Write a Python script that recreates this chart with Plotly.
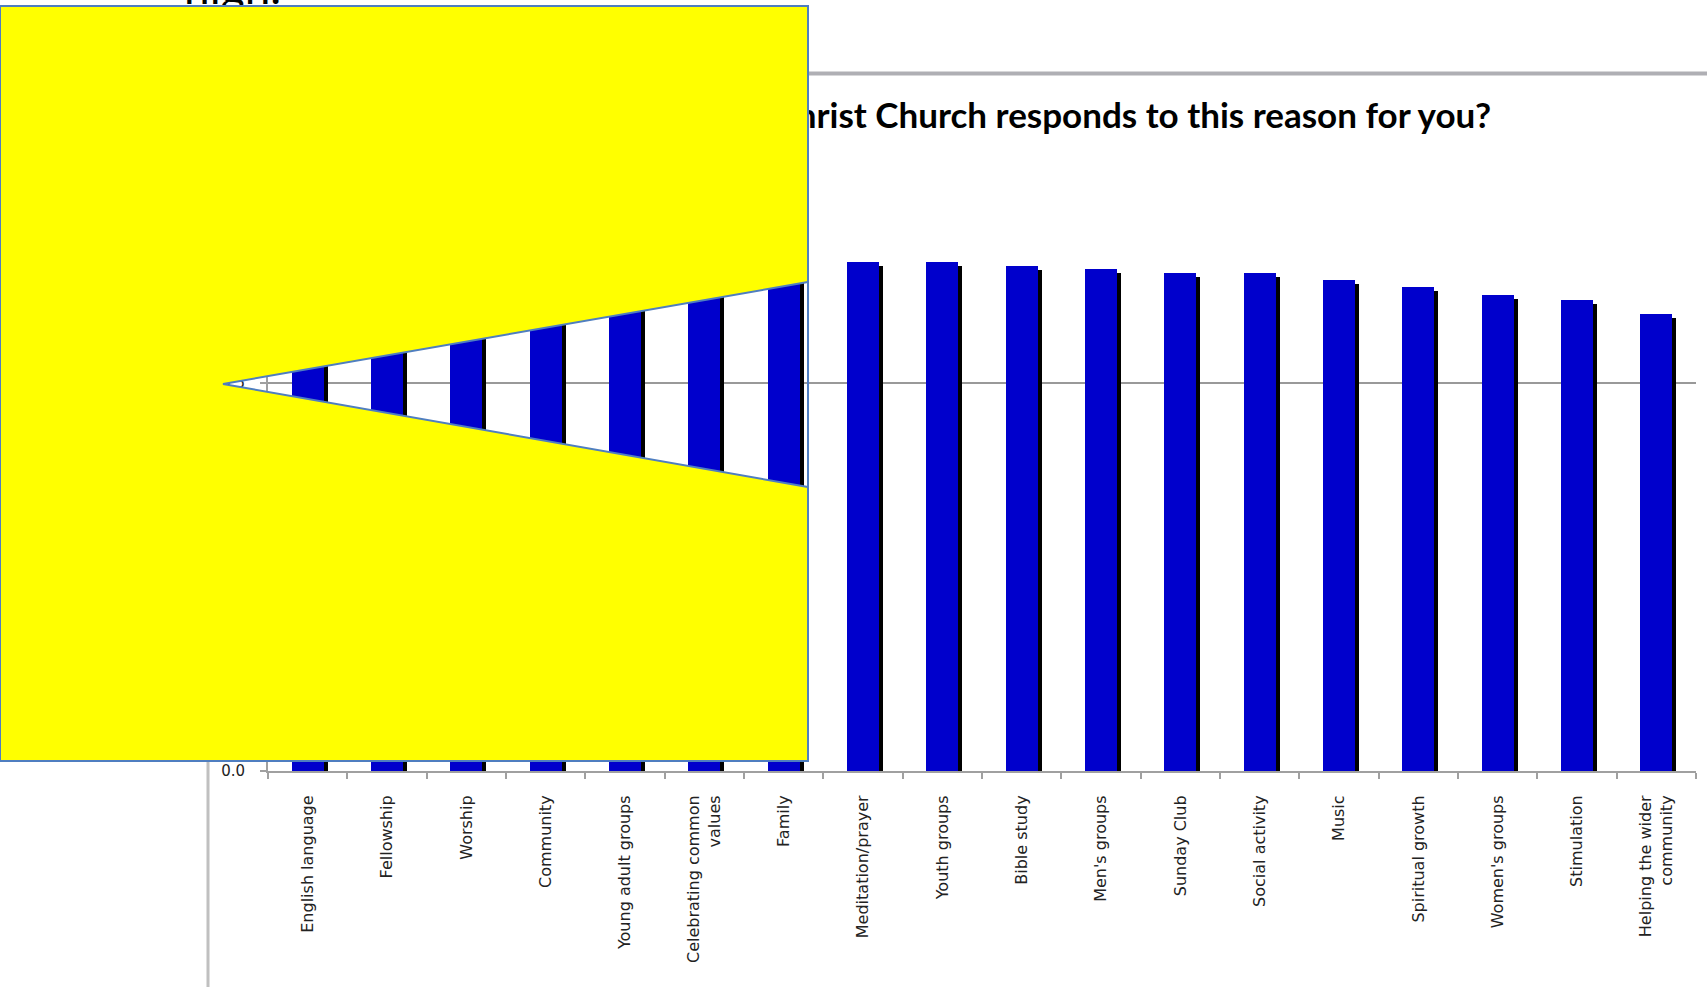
import plotly.graph_objects as go

W, H = 1707, 987

# Reasons, ordered as plotted
categories = [
    "English language", "Fellowship", "Worship", "Community",
    "Young adult groups", "Celebrating common<br>values", "Family",
    "Meditation/prayer", "Youth groups", "Bible study", "Men's groups",
    "Sunday Club", "Social activity", "Music", "Spiritual growth",
    "Women's groups", "Stimulation", "Helping the wider<br>community",
]

# Average response score per reason
scores = [
    0.76, 0.74, 0.72, 0.70, 0.69, 0.68, 0.67,
    0.656, 0.656, 0.651, 0.647, 0.642, 0.641, 0.633, 0.624,
    0.613, 0.607, 0.589,
]

y_ticks = [0.0, 0.5]
title_text = "How well do you think Christ Church responds to this reason for you?"
slide_text = "high."


def px(x):
    return x / W


def py(y):
    return 1 - y / H


BAR_W = 0.40
SHADOW_DX = 0.05
SHADOW_DY = 0.005

fig = go.Figure()

# drop shadow behind each bar
fig.add_trace(go.Bar(
    x=categories, y=[v - SHADOW_DY for v in scores],
    width=BAR_W, offset=-BAR_W / 2 + SHADOW_DX,
    marker=dict(color="#000000", line=dict(width=0)),
    hoverinfo="skip", showlegend=False,
))
fig.add_trace(go.Bar(
    x=categories, y=scores,
    width=BAR_W, offset=-BAR_W / 2,
    marker=dict(color="#0000CC", line=dict(width=0)),
    showlegend=False,
))

# chart title and slide heading, drawn as text underneath the overlay shape
fig.add_trace(go.Scatter(
    x=[1491], y=[119], mode="text", text=[title_text],
    textposition="middle left",
    textfont=dict(family="Lato", size=35, color="#000000", weight="bold"),
    xaxis="x2", yaxis="y2", cliponaxis=False, hoverinfo="skip", showlegend=False,
))
fig.add_trace(go.Scatter(
    x=[184], y=[15], mode="text", text=[slide_text],
    textposition="top right",
    textfont=dict(family="Lato", size=46, color="#000000"),
    xaxis="x2", yaxis="y2", cliponaxis=False, hoverinfo="skip", showlegend=False,
))

# overlay: yellow panel with a triangular window cut out of it
rx0, ry0, rx1, ry1 = 0, 6, 808, 761
apex = (223, 384)
tri_top = (808, 282)
tri_bot = (808, 487)


def P(x, y):
    return f"{px(x):.5f},{py(y):.5f}"


rect_path = f"M{P(rx0, ry0)} L{P(rx1, ry0)} L{P(rx1, ry1)} L{P(rx0, ry1)} Z"
tri_path = f"M{P(*apex)} L{P(*tri_top)} L{P(*tri_bot)} Z"

shapes = [
    # chart frame edges
    dict(type="line", xref="paper", yref="paper", layer="above",
         x0=px(700), x1=px(W + 5), y0=py(73.5), y1=py(73.5),
         line=dict(color="#AFAFB4", width=4)),
    dict(type="line", xref="paper", yref="paper", layer="above",
         x0=px(208), x1=px(208), y0=py(60), y1=py(H + 5),
         line=dict(color="#C0C0C0", width=3)),
    dict(type="path", xref="paper", yref="paper", layer="above",
         path=rect_path + " " + tri_path, fillrule="evenodd",
         fillcolor="#FFFF00", line=dict(width=0)),
    dict(type="path", xref="paper", yref="paper", layer="above",
         path=rect_path, fillcolor="rgba(0,0,0,0)",
         line=dict(color="#4F7EC0", width=2)),
    dict(type="path", xref="paper", yref="paper", layer="above",
         path=tri_path, fillcolor="rgba(0,0,0,0)",
         line=dict(color="#4F7EC0", width=2)),
]

fig.update_layout(
    width=W, height=H,
    autosize=False,
    margin=dict(l=0, r=0, t=0, b=0, pad=0, autoexpand=False),
    paper_bgcolor="#FFFFFF", plot_bgcolor="rgba(0,0,0,0)",
    barmode="overlay",
    bargap=0,
    shapes=shapes,
    xaxis=dict(
        domain=[px(268), px(1696)],
        range=[-0.5, len(categories) - 0.5],
        type="category", automargin=False,
        showline=True, linecolor="#A0A0A0", linewidth=2,
        ticks="outside", tickson="boundaries", ticklen=6,
        tickcolor="#A0A0A0", tickwidth=1.5,
        tickangle=-90, ticklabelstandoff=16,
        tickfont=dict(family="DejaVu Sans", size=16, color="#222222"),
        showgrid=False, zeroline=False,
    ),
    yaxis=dict(
        domain=[py(771), py(150)],
        range=[0, 0.8], automargin=False,
        tickvals=y_ticks, tickformat=".1f",
        showline=True, linecolor="#A0A0A0", linewidth=2,
        ticks="outside", ticklen=6, tickcolor="#A0A0A0", tickwidth=1.5,
        ticklabelstandoff=12,
        tickfont=dict(family="DejaVu Sans", size=15, color="#222222"),
        showgrid=True, gridcolor="#999999", gridwidth=2,
        zeroline=False,
    ),
    xaxis2=dict(domain=[0, 1], range=[0, W], anchor="y2", visible=False,
                automargin=False),
    yaxis2=dict(domain=[0, 1], range=[H, 0], anchor="x2", visible=False,
                automargin=False),
)

fig.write_html("out.html")
